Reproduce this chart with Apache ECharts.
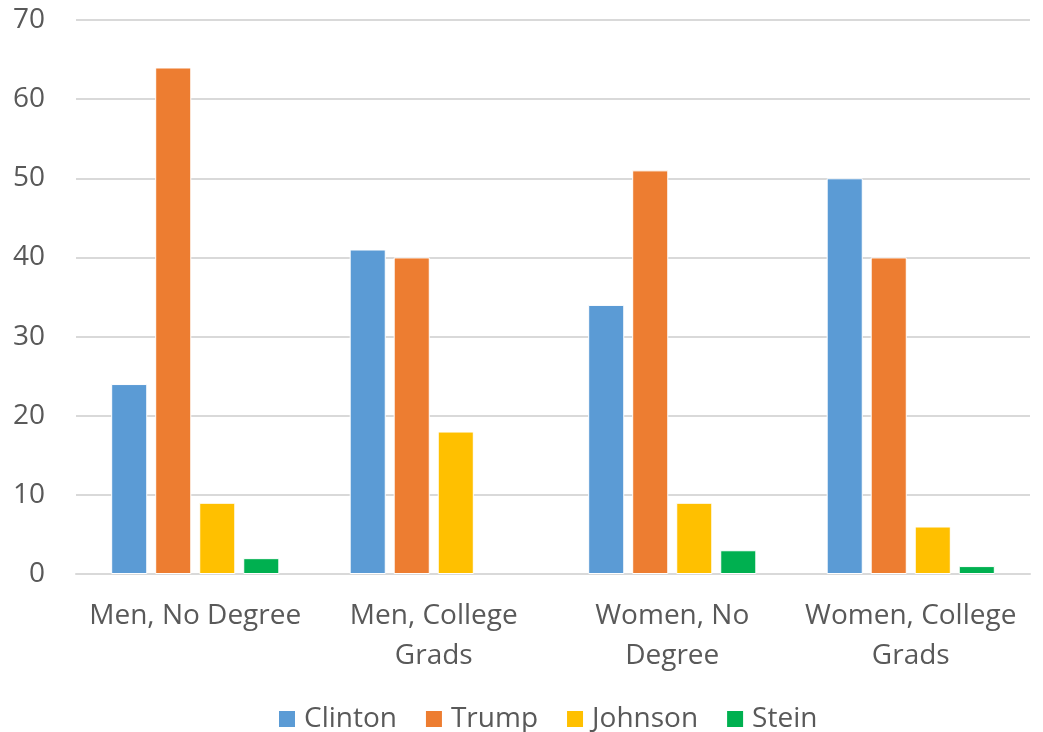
<!DOCTYPE html>
<html><head><meta charset="utf-8">
<script src="https://cdn.jsdelivr.net/npm/echarts@6/dist/echarts.min.js"></script>
<style>html,body{margin:0;padding:0;background:#fff}#c{width:1043px;height:732px}</style>
</head><body><div id="c"></div>
<script>
const categories = ['Men, No Degree', 'Men, College\nGrads', 'Women, No\nDegree', 'Women, College\nGrads'];
const clinton = [24, 41, 34, 50];
const trump = [64, 40, 51, 40];
const johnson = [9, 18, 9, 6];
const stein = [2, null, 3, 1];
const seriesNames = ['Clinton', 'Trump', 'Johnson', 'Stein'];
const colors = ['#5B9BD5', '#ED7D31', '#FFC000', '#00B050'];
const FONT = '"Open Sans", sans-serif';
const chart = echarts.init(document.getElementById('c'), null, {renderer: 'canvas'});
const dataSets = [clinton, trump, johnson, stein];
chart.setOption({
  animation: false,
  color: colors,
  grid: {left: 76, right: 13, top: 20, bottom: 158, containLabel: false},
  legend: {
    bottom: -6, left: 272, itemWidth: 18, itemHeight: 18, itemGap: 27,
    icon: 'rect',
    textStyle: {fontFamily: FONT, fontSize: 28, color: '#595959', padding: [0, 0, 0, 3]},
    data: seriesNames
  },
  xAxis: {
    type: 'category', data: categories,
    axisLine: {lineStyle: {color: '#D9D9D9', width: 2}},
    axisTick: {show: false},
    axisLabel: {fontFamily: FONT, fontSize: 28, color: '#595959', lineHeight: 40, margin: 22, interval: 0}
  },
  yAxis: {
    type: 'value', min: 0, max: 70, interval: 10,
    axisLine: {show: false}, axisTick: {show: false},
    splitLine: {lineStyle: {color: '#D9D9D9', width: 2}},
    axisLabel: {fontFamily: FONT, fontSize: 28, color: '#595959', margin: 31}
  },
  series: dataSets.map((d, i) => ({
    name: seriesNames[i], type: 'bar', data: d,
    barGap: '22%', barCategoryGap: '29.5%',
    itemStyle: {borderColor: '#fff', borderWidth: 1}
  }))
});
</script></body></html>
